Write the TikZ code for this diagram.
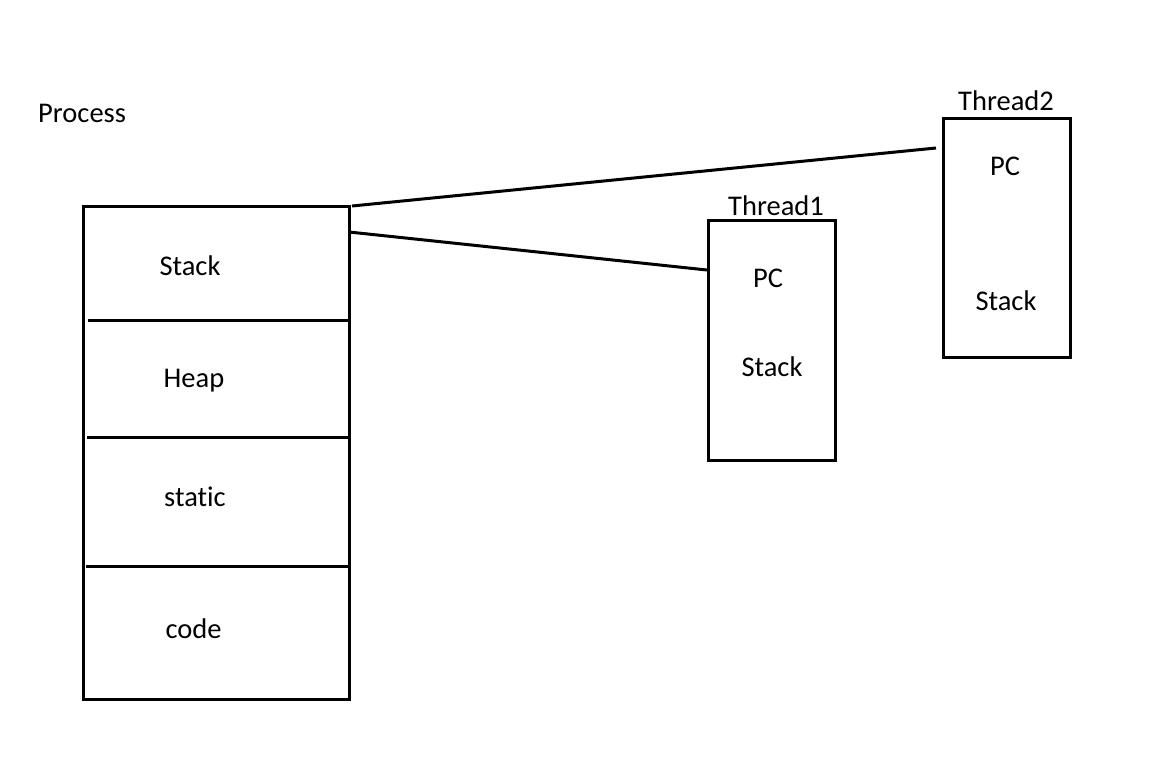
\documentclass[tikz,border=0pt]{standalone}
\usepackage{fontspec}
\setmainfont[Ligatures=NoCommon]{Carlito}
\begin{document}
\begin{tikzpicture}[x=1pt,y=-1pt,
  box/.style={draw,line width=3pt,rectangle,inner sep=0pt},
  lbl/.style={anchor=base,inner sep=0pt,font=\fontsize{28.5pt}{30pt}\selectfont},
  conn/.style={line width=3pt}]
\useasboundingbox (0,0) rectangle (1154,766);
% process
\node[lbl,anchor=base west] (ptitle) at (38,122) {Process};
\node[box,minimum width=266pt,minimum height=493pt] (proc) at (216,452.5) {};
\coordinate (d1l) at (88,320); \coordinate (d1r) at (349,320);
\coordinate (d2l) at (87,437); \coordinate (d2r) at (349,437);
\coordinate (d3l) at (86,566); \coordinate (d3r) at (349,566);
\draw[conn] (d1l) -- (d1r);
\draw[conn] (d2l) -- (d2r);
\draw[conn] (d3l) -- (d3r);
\node[lbl] (pstack) at (190,275) {Stack};
\node[lbl] (pheap) at (194,387) {Heap};
\node[lbl] (pstatic) at (195,506) {static};
\node[lbl] (pcode) at (193.5,638) {code};
% thread1
\node[box,minimum width=127pt,minimum height=240pt] (t1) at (771.5,340) {};
\node[lbl] (t1title) at (776,215) {Thread1};
\node[lbl] (t1pc) at (768,287) {PC};
\node[lbl] (t1stack) at (772,376) {Stack};
% thread2
\node[box,minimum width=127pt,minimum height=239pt] (t2) at (1006.5,237.5) {};
\node[lbl] (t2title) at (1006,110) {Thread2};
\node[lbl] (t2pc) at (1005,175) {PC};
\node[lbl] (t2stack) at (1006,310) {Stack};
% connectors
\coordinate (pa) at (352,206);
\coordinate (pb) at (349,232);
\coordinate (t2in) at (936,148);
\coordinate (t1in) at (707,270);
\draw[conn] (pa) -- (t2in);
\draw[conn] (pb) -- (t1in);
\end{tikzpicture}
\end{document}
